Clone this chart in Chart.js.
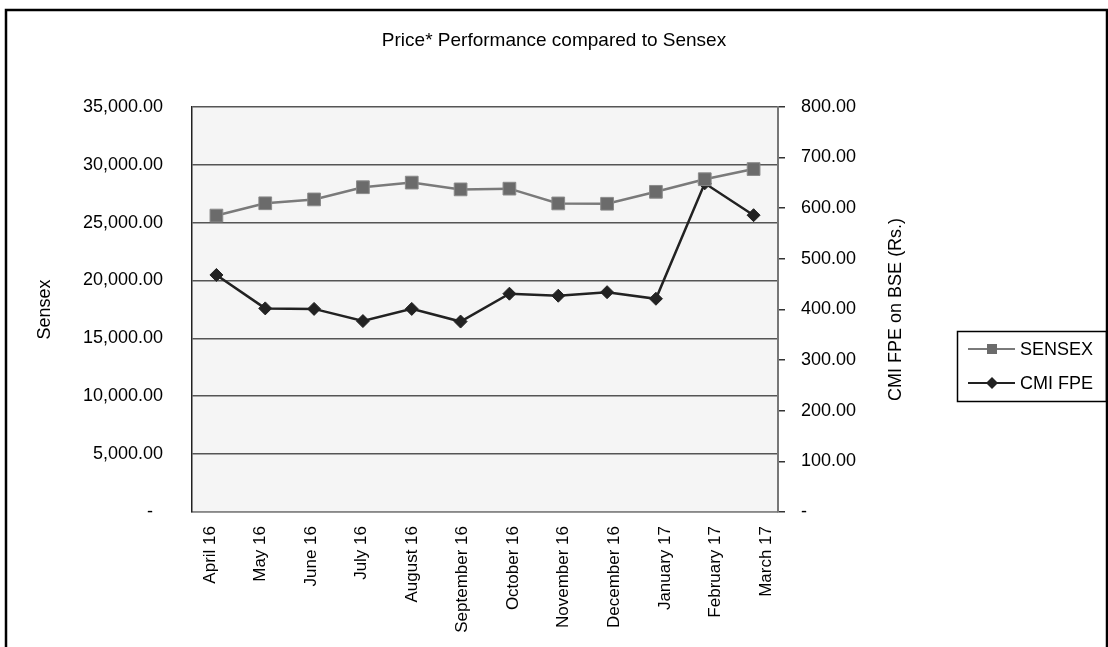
<!DOCTYPE html>
<html>
<head>
<meta charset="utf-8">
<script src="https://cdn.jsdelivr.net/npm/chart.js@4/dist/chart.umd.min.js"></script>
<style>
  html, body { margin: 0; padding: 0; background: #fff; }
  #wrap { width: 1108px; height: 647px; }
</style>
</head>
<body>
<div id="wrap"><canvas id="chart" width="1108" height="647"></canvas></div>
<script>
// data
const months = ['April 16', 'May 16', 'June 16', 'July 16', 'August 16', 'September 16',
  'October 16', 'November 16', 'December 16', 'January 17', 'February 17', 'March 17'];
const sensex = [25606, 26667, 26999, 28052, 28452, 27866, 27930, 26653, 26626, 27656, 28743, 29621];
const cmiFpe = [468, 402, 401, 377, 401, 376, 431, 427, 434, 421, 649, 586];
const sensexTicks = [0, 5000, 10000, 15000, 20000, 25000, 30000, 35000];
const priceTicks = [0, 100, 200, 300, 400, 500, 600, 700, 800];

const FONT = 'Liberation Sans, Arial, sans-serif';

const fmt = (v) => v === 0 ? '-  ' : v.toLocaleString('en-US', { minimumFractionDigits: 2, maximumFractionDigits: 2 });

// grey plot background, outer frame, legend box and right title
const decor = {
  id: 'decor',
  beforeDraw(chart) {
    const { ctx, chartArea: a } = chart;
    ctx.save();
    ctx.fillStyle = '#f5f5f5';
    ctx.fillRect(a.left, a.top, a.right - a.left, a.bottom - a.top);
    ctx.restore();
  },
  afterDraw(chart) {
    const { ctx, chartArea: a } = chart;
    ctx.save();
    // outer frame
    ctx.strokeStyle = '#000';
    ctx.lineWidth = 2.5;
    ctx.strokeRect(6, 10, 1101, 660);

    // right axis title, reads bottom to top
    ctx.fillStyle = '#000';
    ctx.font = '18px ' + FONT;
    ctx.textAlign = 'center';
    ctx.textBaseline = 'middle';
    ctx.translate(896, (a.top + a.bottom) / 2);
    ctx.rotate(-Math.PI / 2);
    ctx.fillText('CMI FPE on BSE (Rs.)', 0, 0);
    ctx.setTransform(1, 0, 0, 1, 0, 0);

    // legend
    ctx.strokeStyle = '#000';
    ctx.lineWidth = 1.5;
    ctx.strokeRect(957.5, 331.5, 149, 70);
    chart.data.datasets.forEach((ds, i) => {
      const y = 349 + i * 34;
      ctx.strokeStyle = ds.borderColor;
      ctx.lineWidth = 2;
      ctx.beginPath();
      ctx.moveTo(968, y);
      ctx.lineTo(1015, y);
      ctx.stroke();
      ctx.fillStyle = ds.pointBackgroundColor;
      ctx.beginPath();
      if (ds.pointStyle === 'rect') {
        ctx.rect(992 - 5, y - 5, 10, 10);
      } else {
        ctx.moveTo(992, y - 6); ctx.lineTo(998, y); ctx.lineTo(992, y + 6); ctx.lineTo(986, y);
        ctx.closePath();
      }
      ctx.fill();
      ctx.fillStyle = '#000';
      ctx.font = '18px ' + FONT;
      ctx.textAlign = 'left';
      ctx.textBaseline = 'middle';
      ctx.fillText(ds.label, 1020, y + 1);
    });
    ctx.restore();
  }
};

new Chart(document.getElementById('chart').getContext('2d'), {
  type: 'line',
  data: {
    labels: months,
    datasets: [{
      label: 'SENSEX',
      data: sensex,
      yAxisID: 'y',
      borderColor: '#7a7a7a',
      borderWidth: 2.5,
      pointStyle: 'rect',
      pointRadius: 9,
      pointBackgroundColor: '#6b6b6b',
      pointBorderColor: '#8a8a8a',
      pointBorderWidth: 1,
      tension: 0
    }, {
      label: 'CMI FPE',
      data: cmiFpe,
      yAxisID: 'y1',
      borderColor: '#222222',
      borderWidth: 2.5,
      pointStyle: 'rectRot',
      pointRadius: 6.5,
      pointBackgroundColor: '#222222',
      pointBorderColor: '#222222',
      pointBorderWidth: 1,
      tension: 0
    }]
  },
  options: {
    responsive: false,
    animation: false,
    layout: { padding: { left: 0, right: 0, top: 0, bottom: 0 } },
    plugins: {
      legend: { display: false },
      tooltip: { enabled: false },
      title: {
        display: true,
        text: 'Price* Performance compared to Sensex',
        color: '#000',
        font: { family: FONT, size: 19, weight: 'normal' },
        padding: { top: 29, bottom: 55 }
      }
    },
    scales: {
      // category axis carrying the points; its labels are shown by xl below
      x: {
        offset: true,
        grid: { display: false },
        border: { display: true, color: '#888', width: 1.5 },
        ticks: { display: false },
        afterFit(s) { s.height = 0; }
      },
      // label axis: in the picture the month names sit a little wider than the points
      xl: {
        type: 'linear',
        position: 'bottom',
        min: -0.36,
        max: 11.24,
        afterBuildTicks(s) { s.ticks = months.map((m, i) => ({ value: i })); },
        grid: { display: false },
        border: { display: false },
        ticks: {
          color: '#000',
          font: { family: FONT, size: 17 },
          minRotation: 90,
          maxRotation: 90,
          autoSkip: false,
          padding: 6,
          callback: (v) => months[v]
        },
        afterFit(s) { s.height = 135; }
      },
      y: {
        position: 'left',
        min: 0,
        max: 35000,
        afterBuildTicks(s) { s.ticks = sensexTicks.map(v => ({ value: v })); },
        grid: { color: '#555', lineWidth: 1.5, drawTicks: false },
        border: { display: true, color: '#222', width: 1.5 },
        ticks: {
          color: '#000',
          font: { family: FONT, size: 18 },
          padding: 29,
          callback: (v) => fmt(v)
        },
        title: {
          display: true,
          text: 'Sensex',
          color: '#000',
          font: { family: FONT, size: 18 },
          padding: { top: 34, bottom: 0 }
        },
        afterFit(s) { s.width = 192; }
      },
      y1: {
        position: 'right',
        min: 0,
        max: 800,
        afterBuildTicks(s) { s.ticks = priceTicks.map(v => ({ value: v })); },
        grid: { drawOnChartArea: false, color: '#333', lineWidth: 1.5, tickLength: 7 },
        border: { display: true, color: '#777', width: 2 },
        ticks: {
          color: '#000',
          font: { family: FONT, size: 18 },
          padding: 16,
          callback: (v) => v === 0 ? '-' : fmt(v)
        },
        afterFit(s) { s.width = 330; }
      }
    }
  },
  plugins: [decor]
});
</script>
</body>
</html>
